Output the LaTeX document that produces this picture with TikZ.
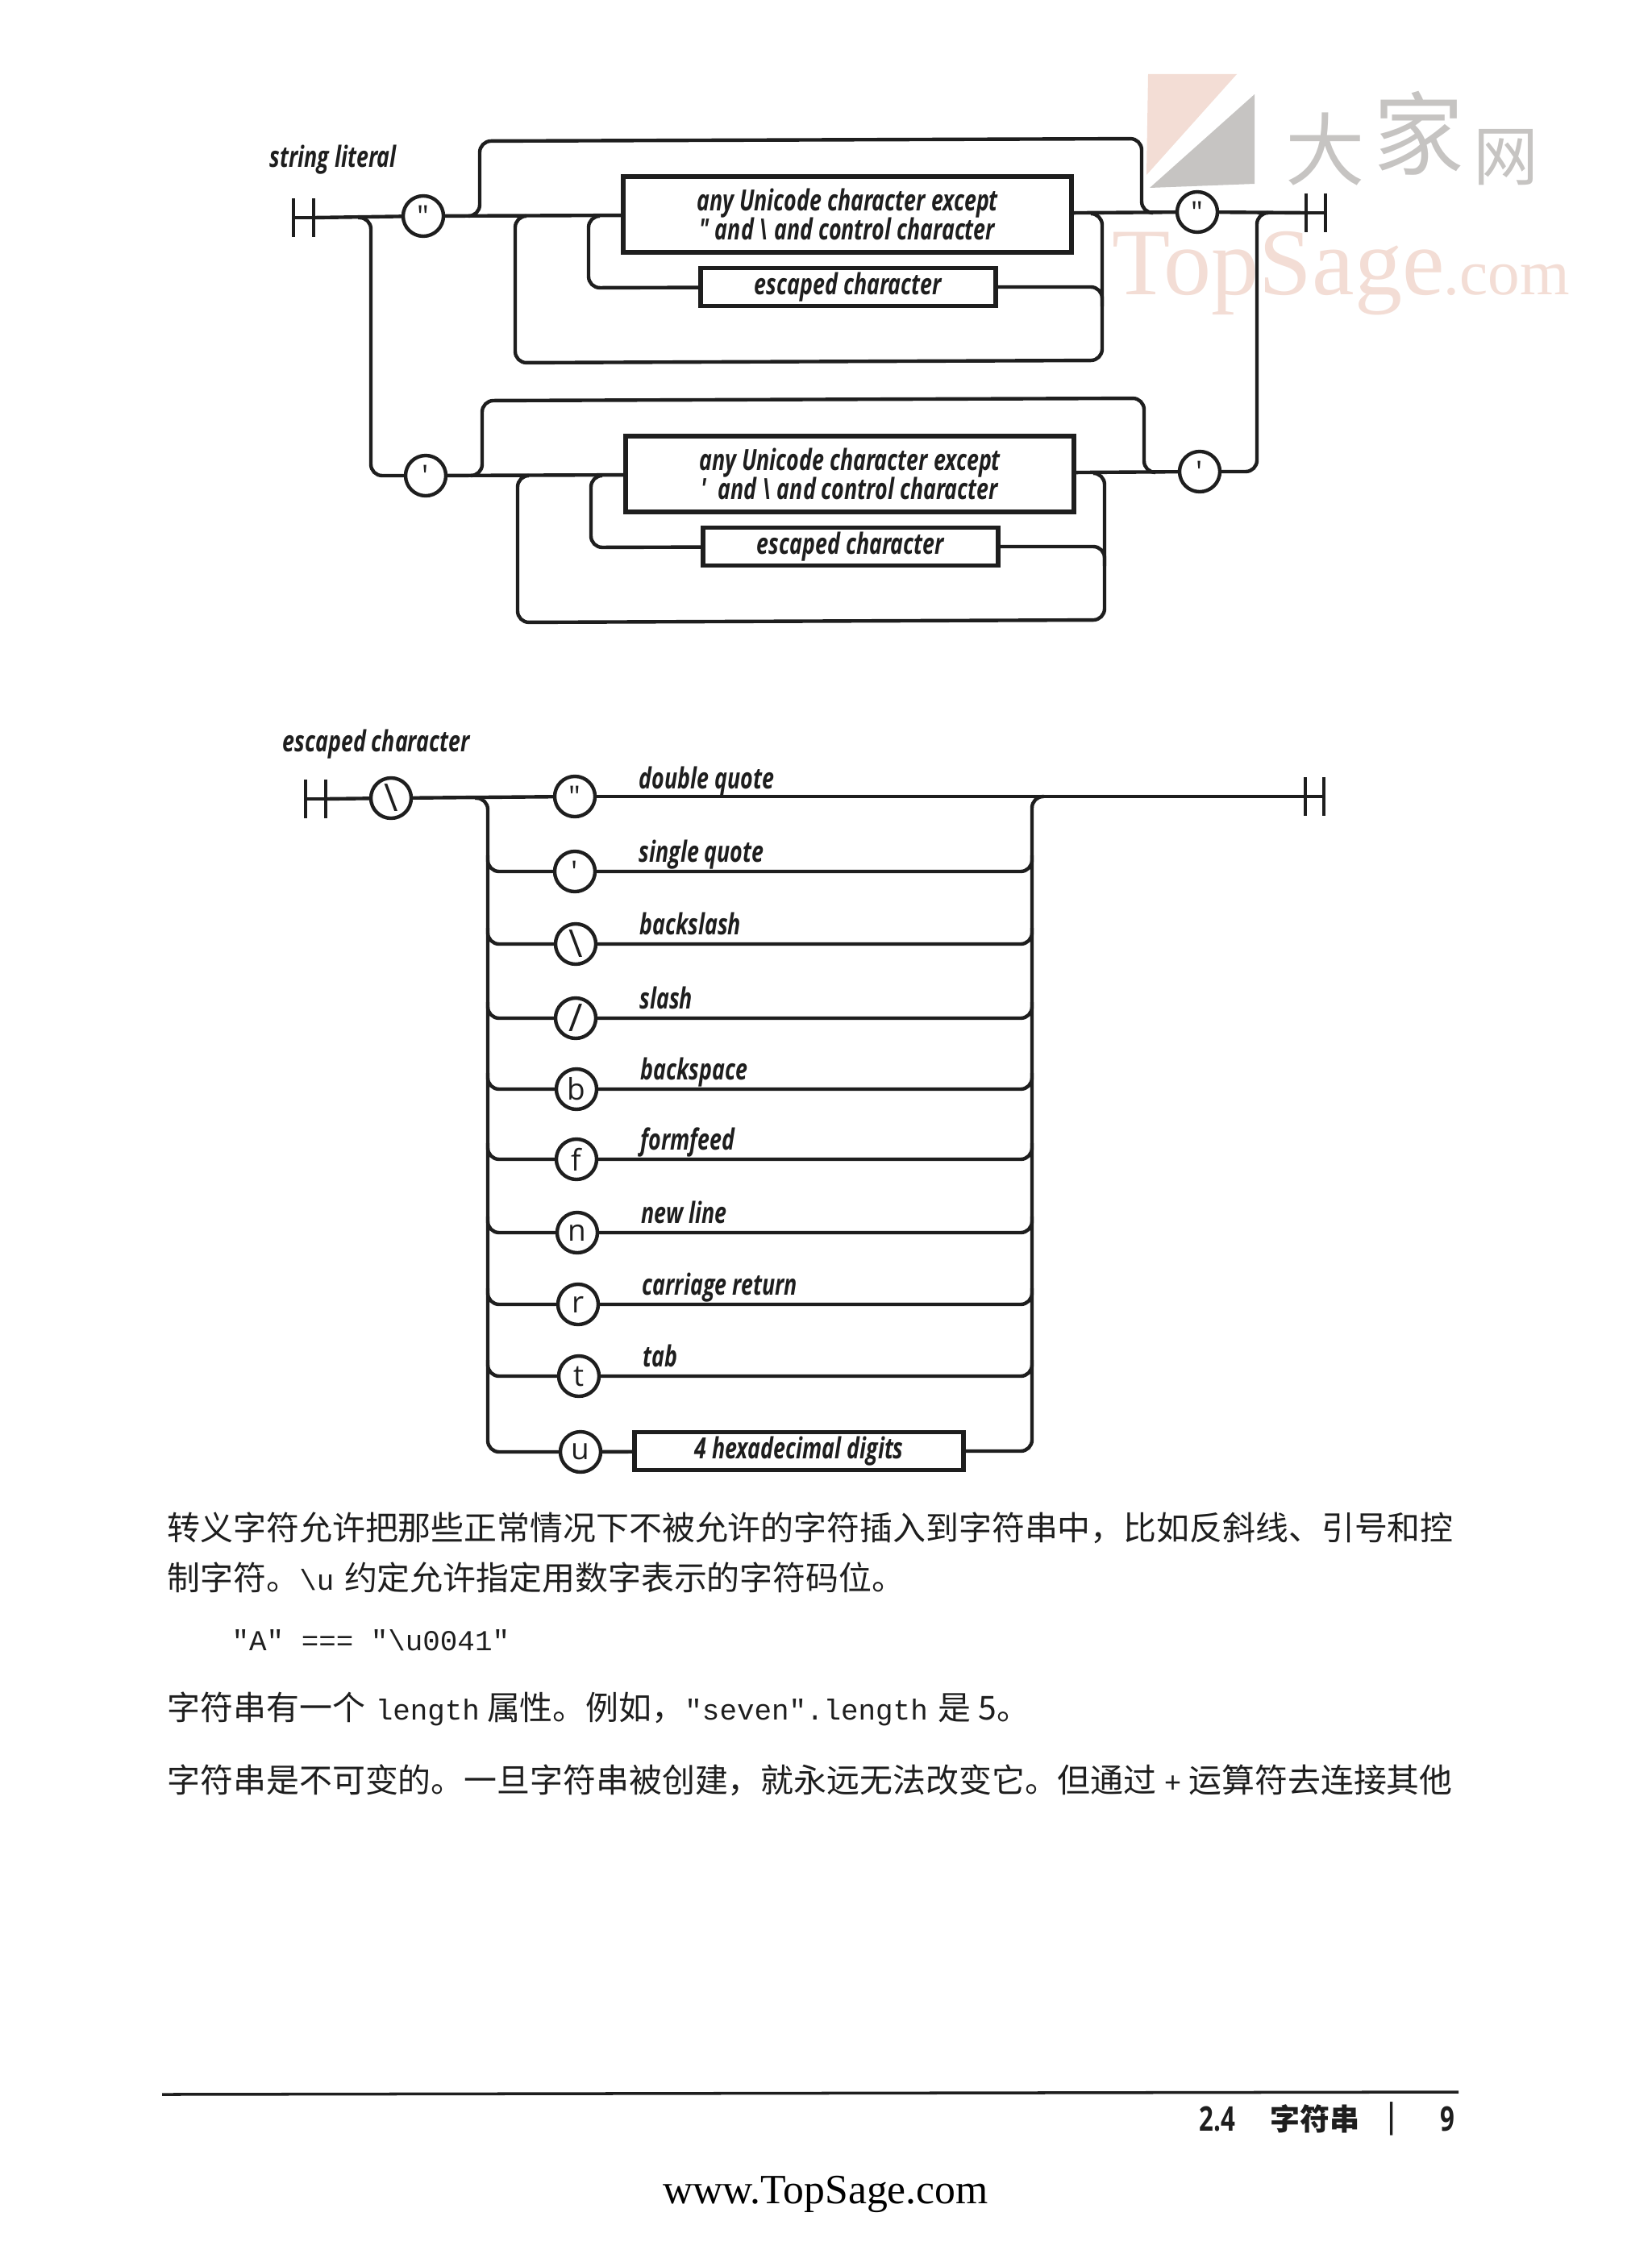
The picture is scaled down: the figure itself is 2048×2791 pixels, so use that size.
\documentclass[tikz,border=0pt]{standalone}
\usepackage{fontspec}
\setmainfont{Noto Sans CJK SC}
\setmonofont{Liberation Mono}
\newfontfamily\railfont[FakeStretch=0.74]{Open Sans}
\newfontfamily\tokenfont{Open Sans}
\newfontfamily\pagefont{Liberation Serif}
\definecolor{markpink}{HTML}{F3DDD5}
\definecolor{markgray}{HTML}{C6C4C2}
\definecolor{inkdark}{HTML}{1E1E1E}
\tikzset{
  rail/.style={line width=1.25pt, rounded corners=0.14cm, draw=inkdark},
  stopbar/.style={line width=1.2pt, draw=inkdark},
  token/.style={draw=inkdark, circle, line width=1.25pt, fill=white, minimum size=0.5cm, inner sep=0pt,
    font=\tokenfont\fontsize{10.5}{11}\selectfont, text=inkdark},
  itembox/.style={draw=inkdark, line width=1.6pt, fill=white, align=center, inner sep=0pt, text=inkdark,
    font=\railfont\bfseries\itshape\fontsize{10.3}{10.3}\selectfont},
  lbl/.style={anchor=base west, inner sep=0pt, text=inkdark,
    font=\railfont\bfseries\itshape\fontsize{10.3}{10.3}\selectfont},
  para/.style={anchor=west, inner sep=0pt, text=inkdark, font=\fontsize{11.63}{14}\selectfont},
  foot/.style={inner sep=0pt, text=inkdark, font=\railfont\bfseries\fontsize{12}{12}\selectfont},
}
\newcommand{\bigglyph}[1]{{\fontsize{13.5}{14}\selectfont #1}}
\newcommand{\inlinecode}[1]{\texttt{\fontsize{10.2}{12}\selectfont #1}}
\newcommand{\stopmark}[4]{\coordinate (#1a) at (#2,#4); \coordinate (#1b) at (#3,#4);
  \draw[stopbar] (#2,#4-24) -- (#2,#4+24);
  \draw[stopbar] (#3,#4-24) -- (#3,#4+24);
  \draw[stopbar] (#1a) -- (#1b);}
\newcommand{\strloop}[5]{\begin{scope}[shift={(#2,#3)}]
  \node[token] (#1open) at (525,268) {#4};
  \node[itembox, minimum width=5.56cm, minimum height=0.94cm] (#1body) at (1051,266) {any Unicode character except\\#5};
  \node[itembox, minimum width=3.66cm, minimum height=0.47cm] (#1esc) at (1052,356) {escaped character};
  \node[token] (#1close) at (1485,263) {#4};
  \coordinate (#1ul) at (581,268); \coordinate (#1tl) at (595,175);
  \coordinate (#1tr) at (1416,172); \coordinate (#1ur) at (1430,264);
  \coordinate (#1ll) at (653,268); \coordinate (#1bl) at (639,450);
  \coordinate (#1br) at (1367,447); \coordinate (#1lr) at (1353,265);
  \coordinate (#1il) at (744,268); \coordinate (#1ic) at (730,357);
  \coordinate (#1eb) at (1367,380);
  \draw[rail] (#1open) -- (#1body);
  \draw[rail] (#1body) -- (#1close);
  \draw[rail] (#1ul) -| (#1tl) -- (#1tr) |- (#1ur);
  \draw[rail] (#1ll) -| (#1bl) -- (#1br) |- (#1lr);
  \draw[rail] (#1il) -| (#1ic) -- (#1esc);
  \draw[rail] (#1esc) -| (#1eb);
\end{scope}}
\newcommand{\escrow}[5]{\node[token] (#1) at (#2,#3) {#4};
  \node[lbl] (#1lbl) at (#2+79,#3-12) {#5};
  \coordinate (#1la) at (605,#3-20);
  \coordinate (#1ra) at (1280,#3-20);
  \draw[rail] (#1la) |- (#1);
  \draw[rail] (#1) -| (#1ra);}

\begin{document}
\begin{tikzpicture}[x=0.01cm, y=-0.01cm]
\useasboundingbox[fill=white] (0,0) rectangle (2048,2791);

\fill[markpink] (1424,92) -- (1534,92) -- (1422,217) -- cycle;
\fill[markgray] (1556,117) -- (1556,228) -- (1426,233) -- cycle;
\node[text=markgray, inner sep=0pt, font=\fontsize{28}{28}\selectfont] (markda) at (1644,185) {大};
\node[text=markgray, inner sep=0pt, font=\fontsize{32}{32}\selectfont] (markjia) at (1760,165) {家};
\node[text=markgray, inner sep=0pt, font=\fontsize{23}{23}\selectfont] (markwang) at (1868,195) {网};
\node[text=markpink, anchor=base west, inner sep=0pt, font=\pagefont\fontsize{33.6}{34}\selectfont] (marktop) at (1379,365) {TopSage};
\node[text=markpink, anchor=base west, inner sep=0pt, font=\pagefont\fontsize{22.5}{23}\selectfont] (markcom) at (1790,365) {.com};

\node[lbl] (titlestr) at (334,208) {string literal};
\stopmark{startstr}{364}{389}{270}
\strloop{dq}{0}{0}{"}{" and \textbackslash{} and control character}
\strloop{sq}{3}{322}{'}{'\ \ and \textbackslash{} and control character}
\stopmark{endstr}{1620}{1644}{264}
\coordinate (splitL) at (444,270);
\coordinate (splitLb) at (460,590);
\coordinate (splitRb) at (1559,585);
\coordinate (splitR) at (1573,264);
\draw[rail] (startstrb) -- (dqopen);
\draw[rail] (splitL) -| (splitLb) -- (sqopen);
\draw[rail] (sqclose) -- (splitRb) |- (splitR);
\draw[rail] (dqclose) -- (endstra);

\node[lbl] (titleesc) at (350,932) {escaped character};
\stopmark{startesc}{379}{404}{991}
\stopmark{endesc}{1619}{1642}{988}
\node[token] (slashin) at (485,990) {\bigglyph{\textbackslash}};
\node[token] (quote) at (713,988) {"};
\node[lbl] (quotelbl) at (792,978) {double quote};
\coordinate (railLt) at (589,990);
\coordinate (railLb) at (605,1801);
\coordinate (railRm) at (1280,1400);
\coordinate (railRt) at (1295,988);
\draw[rail] (startescb) -- (slashin);
\draw[rail] (slashin) -- (quote);
\draw[rail] (quote) -- (endesca);
\escrow{single}{713}{1081}{'}{single quote}
\escrow{backs}{714}{1171}{\bigglyph{\textbackslash}}{backslash}
\escrow{slash}{714}{1263}{\bigglyph{/}}{slash}
\escrow{backsp}{715}{1351}{b}{backspace}
\escrow{formf}{715}{1438}{f}{formfeed}
\escrow{newl}{716}{1529}{n}{new line}
\escrow{carr}{717}{1618}{r}{carriage return}
\escrow{tabc}{718}{1707}{t}{tab}
\node[token] (unic) at (720,1801) {u};
\node[itembox, minimum width=4.08cm, minimum height=0.47cm] (hexd) at (991,1800) {4 hexadecimal digits};
\draw[rail] (railLt) -| (railLb) -- (unic);
\draw[rail] (unic) -- (hexd);
\draw[rail] (hexd) -| (railRm) |- (railRt);

\node[para] (line1) at (207,1895) {转义字符允许把那些正常情况下不被允许的字符插入到字符串中，比如反斜线、引号和控};
\node[para] (line2) at (207,1957) {制字符。\inlinecode{\textbackslash u}\hspace{1pt} 约定允许指定用数字表示的字符码位。};
\node[para, font=\ttfamily\fontsize{10.2}{12}\selectfont] (code) at (287,2035) {"A" === "\textbackslash u0041"};
\node[para] (line3) at (207,2120) {字符串有一个\hspace{1pt} \inlinecode{length} 属性。例如，\inlinecode{"seven".length}\hspace{1pt} 是 5。};
\node[para] (line4) at (207,2208) {字符串是不可变的。一旦字符串被创建，就永远无法改变它。但通过 \inlinecode{+} 运算符去连接其他};

\coordinate (ruleL) at (201,2598);
\coordinate (ruleR) at (1809,2595);
\draw[line width=1pt, draw=inkdark] (ruleL) -- (ruleR);
\node[foot, anchor=west] (secno) at (1487,2628) {2.4};
\node[foot, anchor=west, font=\bfseries\fontsize{10.5}{12}\selectfont] (sectitle) at (1575,2628) {字符串};
\node[foot] (secbar) at (1726,2628) {|};
\node[foot, anchor=east] (pageno) at (1805,2628) {9};
\node[inner sep=0pt, anchor=base, text=black, font=\pagefont\fontsize{14.7}{16}\selectfont] (siteurl) at (1024,2733) {www.TopSage.com};

\end{tikzpicture}
\end{document}
